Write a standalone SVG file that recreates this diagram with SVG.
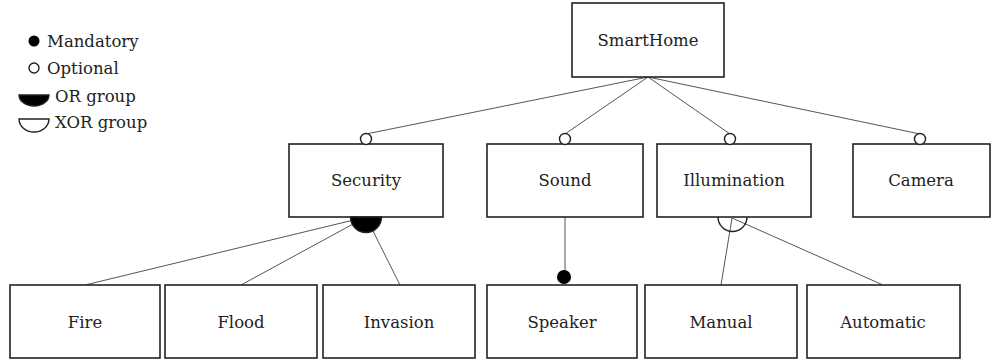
<svg xmlns="http://www.w3.org/2000/svg" width="995" height="362" viewBox="0 0 995 362">
<style>
.box{fill:#fff;stroke:#222;stroke-width:1.6}
.t{font-family:"DejaVu Serif","Liberation Serif",serif;font-size:16.5px;fill:#222;text-anchor:middle}
.lt{font-family:"DejaVu Serif","Liberation Serif",serif;font-size:16.5px;fill:#222}
.ln{stroke:#555;stroke-width:1;fill:none}
.opt{fill:#fff;stroke:#222;stroke-width:1.4}
.man{fill:#000}
.orf{fill:#000;stroke:#222;stroke-width:1.4}
.xor{fill:none;stroke:#222;stroke-width:1.4}
</style>
<rect width="995" height="362" fill="#fff"/>
<g id="legend">
<circle class="man" cx="34" cy="41" r="5.5"/>
<text class="lt" x="47" y="47">Mandatory</text>
<circle class="opt" cx="34" cy="68" r="5"/>
<text class="lt" x="47" y="74">Optional</text>
<path class="orf" d="M19,95 A15,11 0 0 0 49,95 Z"/>
<text class="lt" x="55" y="102">OR group</text>
<path class="xor" d="M19,119 A15,13 0 0 0 49,119 Z"/>
<text class="lt" x="55" y="128">XOR group</text>
</g>
<g id="connectors">
<line class="ln" x1="648" y1="77" x2="366" y2="134"/>
<line class="ln" x1="648" y1="77" x2="565" y2="134"/>
<line class="ln" x1="648" y1="77" x2="730" y2="134"/>
<line class="ln" x1="648" y1="77" x2="920" y2="134"/>
<line class="ln" x1="366" y1="217" x2="85" y2="285"/>
<line class="ln" x1="366" y1="217" x2="241" y2="285"/>
<line class="ln" x1="366" y1="217" x2="400" y2="285"/>
<line class="ln" x1="565" y1="217" x2="565" y2="277"/>
<line class="ln" x1="732" y1="218" x2="721" y2="285"/>
<line class="ln" x1="732" y1="218" x2="883" y2="285"/>
</g>
<g id="SmartHome"><rect class="box" x="572" y="3" width="152" height="74"/><text class="t" x="648" y="46">SmartHome</text></g>
<g id="Security"><rect class="box" x="289" y="144" width="154" height="73"/><text class="t" x="366" y="186">Security</text>
<circle class="opt" cx="366" cy="139" r="5.5"/>
<path class="orf" d="M350.5,217 A15.5,15.5 0 0 0 381.5,217 Z"/></g>
<g id="Sound"><rect class="box" x="487" y="144" width="156" height="73"/><text class="t" x="565" y="186">Sound</text>
<circle class="opt" cx="565" cy="139" r="5.5"/></g>
<g id="Illumination"><rect class="box" x="657" y="144" width="154" height="73"/><text class="t" x="734" y="186">Illumination</text>
<circle class="opt" cx="730" cy="139" r="5.5"/>
<path class="xor" d="M718,217 A14.5,14.5 0 0 0 747,217"/></g>
<g id="Camera"><rect class="box" x="853" y="144" width="137" height="73"/><text class="t" x="921" y="186">Camera</text>
<circle class="opt" cx="920" cy="139" r="5.5"/></g>
<g id="Fire"><rect class="box" x="10" y="285" width="150" height="73"/><text class="t" x="85" y="328">Fire</text></g>
<g id="Flood"><rect class="box" x="165" y="285" width="152" height="73"/><text class="t" x="241" y="328">Flood</text></g>
<g id="Invasion"><rect class="box" x="323" y="285" width="152" height="73"/><text class="t" x="399" y="328">Invasion</text></g>
<g id="Speaker"><rect class="box" x="487" y="285" width="150" height="73"/><text class="t" x="562" y="328">Speaker</text>
<circle class="man" cx="564" cy="277" r="7"/></g>
<g id="Manual"><rect class="box" x="645" y="285" width="152" height="73"/><text class="t" x="721" y="328">Manual</text></g>
<g id="Automatic"><rect class="box" x="807" y="285" width="153" height="73"/><text class="t" x="883" y="328">Automatic</text></g>
</svg>
